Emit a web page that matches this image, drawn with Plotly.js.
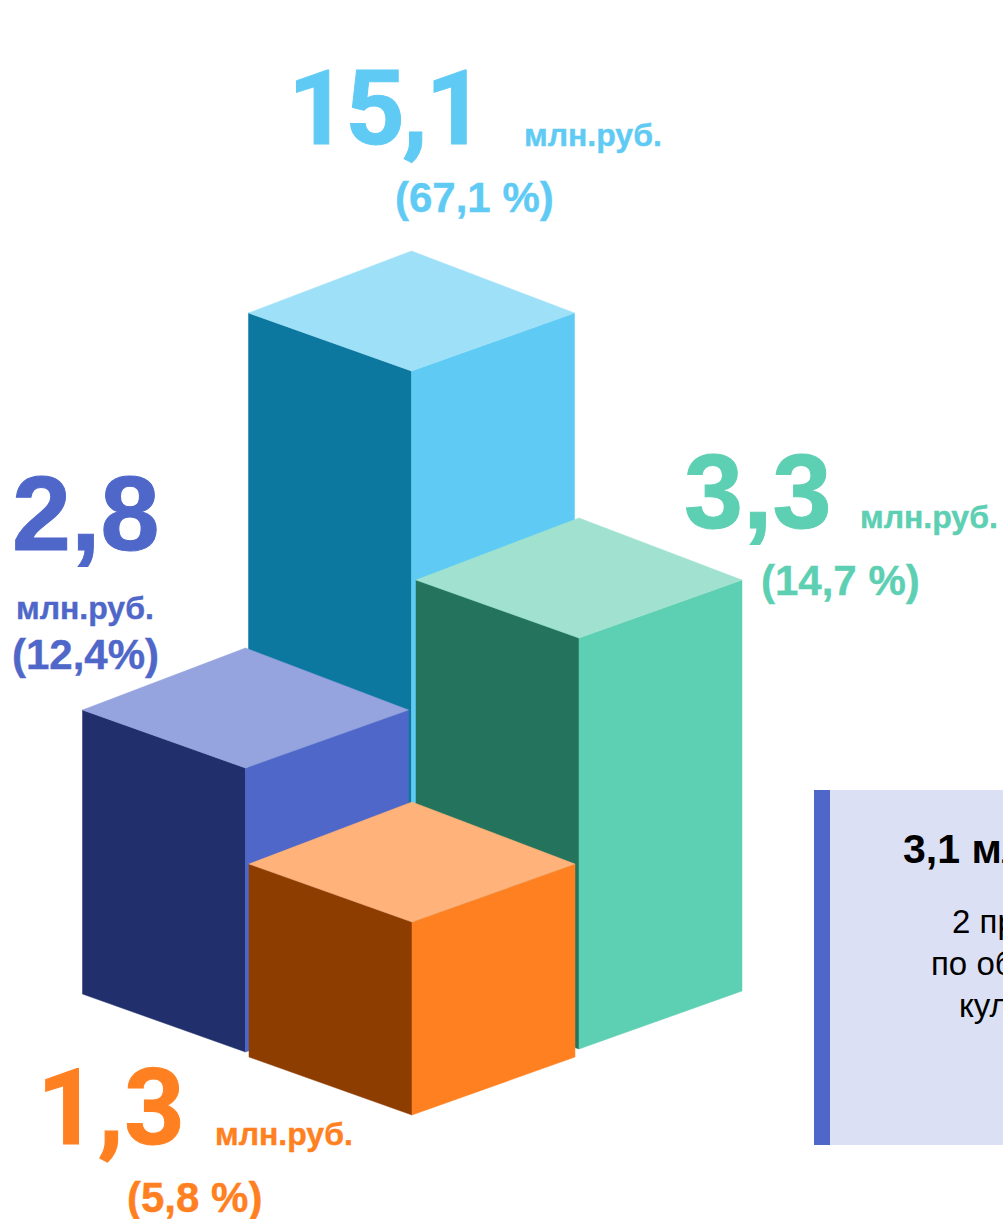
<!DOCTYPE html>
<html><head><meta charset="utf-8">
<script src="https://cdn.plot.ly/plotly-3.0.1.min.js"></script>
<style>html,body{margin:0;padding:0;background:#fff;overflow:hidden}#c{width:1003px;height:1219px}</style>
</head><body><div id="c"></div>
<script>
// Data
var categories = ["Синий", "Тёмно-синий", "Зелёный", "Оранжевый"];
var values = [15.1, 2.8, 3.3, 1.3];
var shares = ["(67,1 %)", "(12,4%)", "(14,7 %)", "(5,8 %)"];
var valueLabels = ["15,1", "2,8", "3,3", "1,3"];
var unitLabel = "млн.руб.";
// Drawn column heights (not proportional to the value)
var drawnHeights = [615, 284, 411, 193];
var boxLines = ["3,1 млн.руб.", "2 проекта", "по объектам", "культуры"];

// Layout of the isometric scene
var foot = [[411.5, 986], [245.5, 1052], [579, 1049], [412, 1115]];
var halfW = 163, skewFront = 58, skewBack = 62;
var palette = [
  {top:"#9FE0F9", left:"#0C789F", right:"#5FCBF4", text:"#5FCBF4"},
  {top:"#95A3DF", left:"#21306C", right:"#4F67C9", text:"#4F67C9"},
  {top:"#A0E2CF", left:"#24745D", right:"#5DCFB2", text:"#5DCFB2"},
  {top:"#FFB279", left:"#8E3D00", right:"#FF8021", text:"#FF8021"}
];

function face(x, y, color, name) {
  return {type:"scatter", mode:"lines", x:x.concat(x[0]), y:y.concat(y[0]), fill:"toself",
    fillcolor:color, line:{color:color, width:0.5}, hoverinfo:"name", name:name, showlegend:false};
}
var traces = [];
categories.forEach(function (name, i) {
  var cx = foot[i][0], by = foot[i][1], h = drawnHeights[i], ty = by - h, c = palette[i];
  traces.push(face([cx - halfW, cx, cx, cx - halfW], [ty - skewFront, ty, by, by - skewFront], c.left, name));
  traces.push(face([cx, cx + halfW, cx + halfW, cx], [ty, ty - skewFront, by - skewFront, by], c.right, name));
  traces.push(face([cx - halfW, cx, cx + halfW, cx], [ty - skewFront, ty - skewFront - skewBack, ty - skewFront, ty], c.top, name));
});

var SANS = "Liberation Sans, Arial, sans-serif", NUM = "Roboto, Arial, sans-serif";
function label(text, x, y, size, color, anchor, bold, family) {
  return {xref:"x", yref:"y", x:x, y:y, text:bold === false ? text : "<b>" + text + "</b>", showarrow:false,
    xanchor:anchor || "left", yanchor:"middle", align:"left",
    font:{family:family || SANS, size:size, color:color}};
}
var F = "#000";
var annotations = [
  label(valueLabels[0], 286, 108, 104, palette[0].text, "left", true, NUM),
  label(unitLabel, 522, 135, 32, palette[0].text),
  label(shares[0], 474, 197, 42, palette[0].text, "center"),
  label(valueLabels[1], 85, 513, 106, palette[1].text, "center"),
  label(unitLabel, 85, 608, 32, palette[1].text, "center"),
  label(shares[1], 85, 654, 42, palette[1].text, "center"),
  label(valueLabels[2], 682, 491, 106, palette[2].text),
  label(unitLabel, 858, 517, 32, palette[2].text),
  label(shares[2], 840, 580, 42, palette[2].text, "center"),
  label(valueLabels[3], 35, 1108, 106, palette[3].text, "left", true, NUM),
  label(unitLabel, 213, 1134, 32, palette[3].text),
  label(shares[3], 194, 1197, 42, palette[3].text, "center"),
  label(boxLines[0], 901, 849, 41, F),
  label(boxLines[1], 950, 921, 33, F, "left", false),
  label(boxLines[2], 929, 963, 33, F, "left", false),
  label(boxLines[3], 957, 1005, 33, F, "left", false)
];
var layout = {
  width:1003, height:1219, margin:{l:0, r:0, t:0, b:0}, paper_bgcolor:"#fff", plot_bgcolor:"#fff",
  showlegend:false, hovermode:false,
  xaxis:{range:[0, 1003], visible:false, fixedrange:true},
  yaxis:{range:[1219, 0], visible:false, fixedrange:true},
  shapes:[
    {type:"rect", xref:"x", yref:"y", x0:830, x1:1003, y0:790, y1:1145, fillcolor:"#DCE0F5", line:{width:0}, layer:"below"},
    {type:"rect", xref:"x", yref:"y", x0:814, x1:830, y0:790, y1:1145, fillcolor:"#4F67C9", line:{width:0}, layer:"below"}
  ],
  annotations:annotations
};
Plotly.newPlot("c", traces, layout, {displayModeBar:false, staticPlot:true}).then(function () {
  // Arial Bold in the reference is heavier than the substitute fonts: thicken the coloured labels slightly.
  document.querySelectorAll(".annotation text").forEach(function (t) {
    var size = parseFloat(t.style.fontSize);
    if (t.style.fill.indexOf("rgb(0, 0, 0)") === 0) return;
    t.style.stroke = t.style.fill;
    t.style.strokeWidth = size > 60 ? "1px" : "0.4px";
    if (t.textContent === valueLabels[0]) t.style.letterSpacing = "-2.5px";
  });
});
</script></body></html>
